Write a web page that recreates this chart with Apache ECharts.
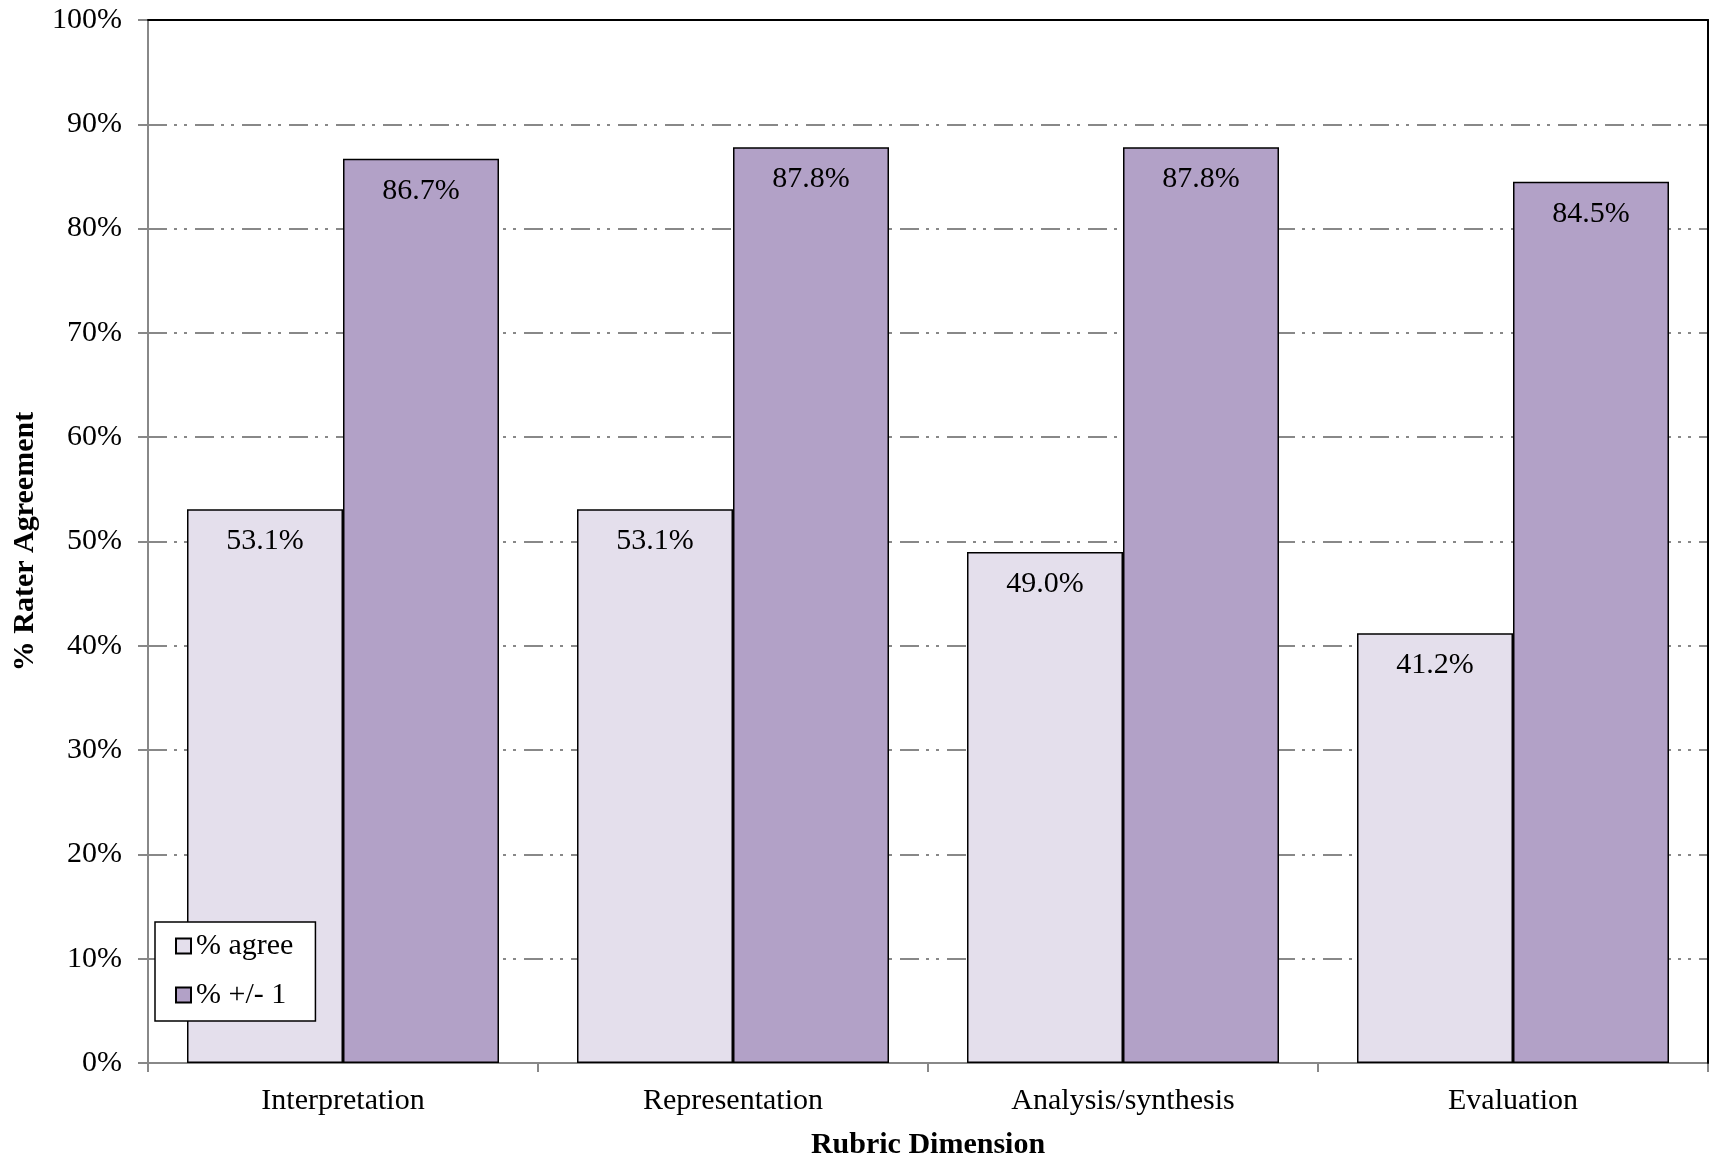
<!DOCTYPE html>
<html>
<head>
<meta charset="utf-8">
<script src="https://cdn.jsdelivr.net/npm/echarts@6/dist/echarts.min.js"></script>
<style>
html,body{margin:0;padding:0;background:#fff;}
#chart{width:1713px;height:1158px;}
</style>
</head>
<body>
<div id="chart"></div>
<script>
const categories = ['Interpretation', 'Representation', 'Analysis/synthesis', 'Evaluation'];
const agree = [53.1, 53.1, 49.0, 41.2];
const plusMinusOne = [86.7, 87.8, 87.8, 84.5];
const seriesNames = ['% agree', '% +/- 1'];
const yTicks = [0, 10, 20, 30, 40, 50, 60, 70, 80, 90, 100];

const FONT = "'Liberation Serif', 'Times New Roman', serif";
const chart = echarts.init(document.getElementById('chart'));

const labelCfg = {
  show: true,
  position: 'insideTop',
  distance: 17,
  color: '#000',
  fontFamily: FONT,
  fontSize: 30,
  formatter: p => p.value.toFixed(1) + '%'
};

chart.setOption({
  animation: false,
  backgroundColor: '#fff',
  textStyle: { fontFamily: FONT },
  grid: { left: 148, top: 20, right: 5, bottom: 95, containLabel: false, outerBoundsMode: 'none' },
  legend: {
    orient: 'vertical',
    left: 155,
    top: 922,
    data: seriesNames,
    backgroundColor: '#fff',
    borderColor: '#000',
    borderWidth: 1.5,
    padding: [9, 22, 11, 20],
    itemGap: 19,
    itemWidth: 15,
    itemHeight: 15,
    icon: 'rect',
    textStyle: { fontFamily: FONT, fontSize: 30, color: '#000' }
  },
  xAxis: [{
    type: 'category',
    data: categories,
    position: 'bottom',
    axisLine: { lineStyle: { color: '#888', width: 2 } },
    axisTick: { show: true, length: 9, lineStyle: { color: '#888', width: 2 } },
    axisLabel: { color: '#000', fontFamily: FONT, fontSize: 30, margin: 23 },
    name: 'Rubric Dimension',
    nameLocation: 'middle',
    nameGap: 67,
    nameTextStyle: { color: '#000', fontFamily: FONT, fontSize: 30, fontWeight: 'bold' }
  }, {
    type: 'category',
    data: categories,
    position: 'top',
    z: 10,
    axisLine: { show: true, onZero: false, lineStyle: { color: '#000', width: 2 } },
    axisTick: { show: false },
    axisLabel: { show: false }
  }],
  yAxis: [{
    type: 'value',
    min: 0,
    max: 100,
    interval: 10,
    axisLine: { show: true, lineStyle: { color: '#888', width: 2 } },
    axisTick: { show: true, length: 10, lineStyle: { color: '#888', width: 2 } },
    axisLabel: {
      color: '#000', fontFamily: FONT, fontSize: 30, margin: 26,
      formatter: v => yTicks.includes(v) ? v + '%' : ''
    },
    splitLine: {
      show: true,
      lineStyle: { color: '#888', width: 2, type: [19, 7, 3, 7, 3, 8] }
    },
    name: '% Rater Agreement',
    nameLocation: 'middle',
    nameGap: 108,
    nameTextStyle: { color: '#000', fontFamily: FONT, fontSize: 30, fontWeight: 'bold' }
  }, {
    type: 'value',
    min: 0,
    max: 100,
    interval: 10,
    position: 'right',
    z: 10,
    axisLine: { show: true, onZero: false, lineStyle: { color: '#000', width: 2 } },
    axisTick: { show: false },
    axisLabel: { show: false },
    splitLine: { show: false }
  }],
  series: [{
    name: seriesNames[0],
    type: 'bar',
    data: agree,
    barGap: '0%',
    barCategoryGap: '20%',
    itemStyle: { color: '#E4DFEC', borderColor: '#000', borderWidth: 1.5 },
    label: labelCfg
  }, {
    name: seriesNames[1],
    type: 'bar',
    data: plusMinusOne,
    barGap: '0%',
    barCategoryGap: '20%',
    itemStyle: { color: '#B2A1C7', borderColor: '#000', borderWidth: 1.5 },
    label: labelCfg
  }]
});
</script>
</body>
</html>
